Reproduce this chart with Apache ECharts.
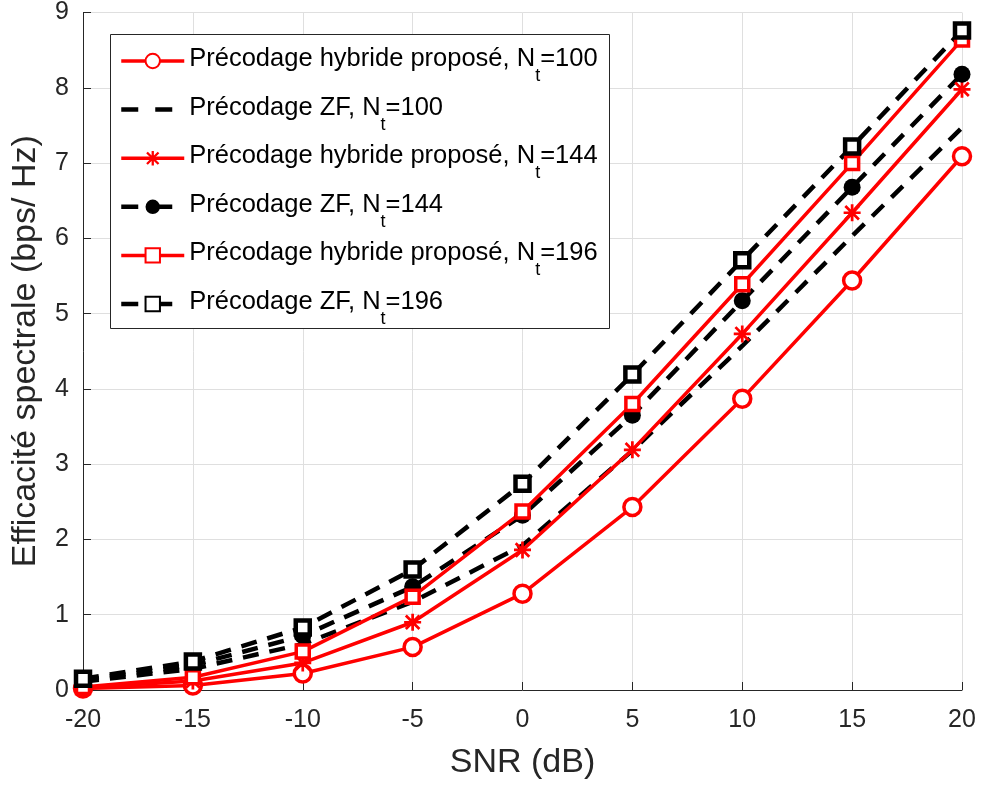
<!DOCTYPE html>
<html>
<head>
<meta charset="utf-8">
<script src="https://cdn.jsdelivr.net/npm/echarts@6/dist/echarts.min.js"></script>
<style>
html,body{margin:0;padding:0;background:#fff;}
#chart{width:981px;height:787px;}
</style>
</head>
<body>
<div id="chart"></div>
<script>
// ---- data ----
const snr = [-20, -15, -10, -5, 0, 5, 10, 15, 20];
const hybrid100 = [0.02, 0.06, 0.22, 0.57, 1.28, 2.43, 3.87, 5.44, 7.09];
const zf100     = [0.11, 0.28, 0.61, 1.17, 1.92, 3.18, 4.57, 6.03, 7.47];
const hybrid144 = [0.03, 0.12, 0.36, 0.90, 1.86, 3.19, 4.73, 6.34, 7.98];
const zf144     = [0.13, 0.33, 0.72, 1.37, 2.32, 3.65, 5.17, 6.68, 8.18];
const hybrid196 = [0.04, 0.17, 0.51, 1.24, 2.37, 3.80, 5.39, 7.00, 8.64];
const zf196     = [0.15, 0.38, 0.83, 1.60, 2.74, 4.19, 5.71, 7.22, 8.76];
const seriesNames = [
  'Précodage hybride proposé, Nt=100',
  'Précodage ZF, Nt=100',
  'Précodage hybride proposé, Nt=144',
  'Précodage ZF, Nt=144',
  'Précodage hybride proposé, Nt=196',
  'Précodage ZF, Nt=196'
];
const xTicks = [-20, -15, -10, -5, 0, 5, 10, 15, 20];
const yTicks = [0, 1, 2, 3, 4, 5, 6, 7, 8, 9];
const xTitle = 'SNR (dB)';
const yTitle = 'Efficacité spectrale (bps/ Hz)';

const FONT = 'Liberation Sans, Arial, Helvetica, sans-serif';
const pair = arr => arr.map((v, i) => [snr[i], v]);
const star = 'path://M0,8.4 L20,8.4 L20,11.6 L0,11.6 Z M8.4,0 L11.6,0 L11.6,20 L8.4,20 Z M0.87,3.13 L3.13,0.87 L19.13,16.87 L16.87,19.13 Z M16.87,0.87 L19.13,3.13 L3.13,19.13 L0.87,16.87 Z';

const RED_W = 3.5, BLACK_W = 4.5;
const DASH = [16, 11];

function redSeries(name, data, symbol, size, hollow) {
  return {
    name, type: 'line', data: pair(data),
    symbol, symbolSize: size, showAllSymbol: true,
    lineStyle: {color: '#ff0000', width: RED_W, type: 'solid'},
    itemStyle: hollow ? {color: '#ffffff', borderColor: '#ff0000', borderWidth: 3.5}
                      : {color: '#ff0000', borderWidth: 0},
    color: '#ff0000',
    emphasis: {disabled: true}, animation: false
  };
}
function blackSeries(name, data, symbol, size, hollow) {
  return {
    name, type: 'line', data: pair(data),
    symbol, symbolSize: size, showAllSymbol: true,
    lineStyle: {color: '#000000', width: BLACK_W, type: DASH},
    itemStyle: hollow ? {color: '#ffffff', borderColor: '#000000', borderWidth: 4.5}
                      : {color: '#000000', borderWidth: 0},
    color: '#000000',
    emphasis: {disabled: true}, animation: false
  };
}

const legendData = seriesNames.map((name, i) => {
  const red = i % 2 === 0;
  const item = {
    name,
    lineStyle: red ? {color: '#ff0000', width: RED_W, type: 'solid'}
                   : {color: '#000000', width: BLACK_W, type: [17, 17]}
  };
  if (i === 1) item.itemStyle = {opacity: 0};
  return item;
});

const chart = echarts.init(document.getElementById('chart'), null, {renderer: 'canvas'});
chart.setOption({
  backgroundColor: '#ffffff',
  animation: false,
  grid: {left: 83, right: 19, top: 11, bottom: 97, containLabel: false},
  xAxis: {
    type: 'value', min: xTicks[0], max: xTicks[xTicks.length - 1], interval: 5,
    name: xTitle, nameLocation: 'middle', nameGap: 56,
    nameTextStyle: {fontFamily: FONT, fontSize: 34, color: '#262626'},
    axisLine: {show: true, onZero: false, lineStyle: {color: '#262626', width: 1}},
    axisTick: {show: true, inside: true, length: 8, lineStyle: {color: '#262626'}},
    axisLabel: {fontFamily: FONT, fontSize: 25, color: '#262626', margin: 18},
    splitLine: {show: true, lineStyle: {color: '#dfdfdf', width: 1}}
  },
  yAxis: {
    type: 'value', min: yTicks[0], max: yTicks[yTicks.length - 1], interval: 1,
    name: yTitle, nameLocation: 'middle', nameGap: 40, nameRotate: 90,
    nameTextStyle: {fontFamily: FONT, fontSize: 34, color: '#262626'},
    axisLine: {show: true, onZero: false, lineStyle: {color: '#262626', width: 1}},
    axisTick: {show: true, inside: true, length: 8, lineStyle: {color: '#262626'}},
    axisLabel: {fontFamily: FONT, fontSize: 25, color: '#262626', margin: 14},
    splitLine: {show: true, lineStyle: {color: '#dfdfdf', width: 1}}
  },
  graphic: [{
    type: 'rect', z: 50, silent: true,
    shape: {x: 110.5, y: 34.5, width: 499, height: 294},
    style: {fill: '#ffffff', stroke: '#262626', lineWidth: 1}
  }],
  legend: {
    z: 60, orient: 'vertical', left: 119, top: 46, padding: 0,
    itemWidth: 63, itemHeight: 18, itemGap: 9.6,
    data: legendData,
    formatter: function (name) {
      const idx = name.indexOf('Nt=');
      return '{n|' + name.slice(0, idx) + 'N}{s|t}{n|' + name.slice(idx + 2) + '}';
    },
    textStyle: {
      color: '#000000', padding: 0,
      rich: {
        n: {fontFamily: FONT, fontSize: 25.5, lineHeight: 30, verticalAlign: 'top', color: '#000'},
        s: {fontFamily: FONT, fontSize: 18, lineHeight: 18, padding: [21, 0, 0, 0], verticalAlign: 'top', color: '#000'}
      }
    }
  },
  series: [
    redSeries(seriesNames[0], hybrid100, 'circle', 17, true),
    blackSeries(seriesNames[1], zf100, 'none', 0, false),
    redSeries(seriesNames[2], hybrid144, star, 17, false),
    blackSeries(seriesNames[3], zf144, 'circle', 17, false),
    redSeries(seriesNames[4], hybrid196, 'rect', 13, true),
    blackSeries(seriesNames[5], zf196, 'rect', 14, true)
  ]
});
</script>
</body>
</html>
